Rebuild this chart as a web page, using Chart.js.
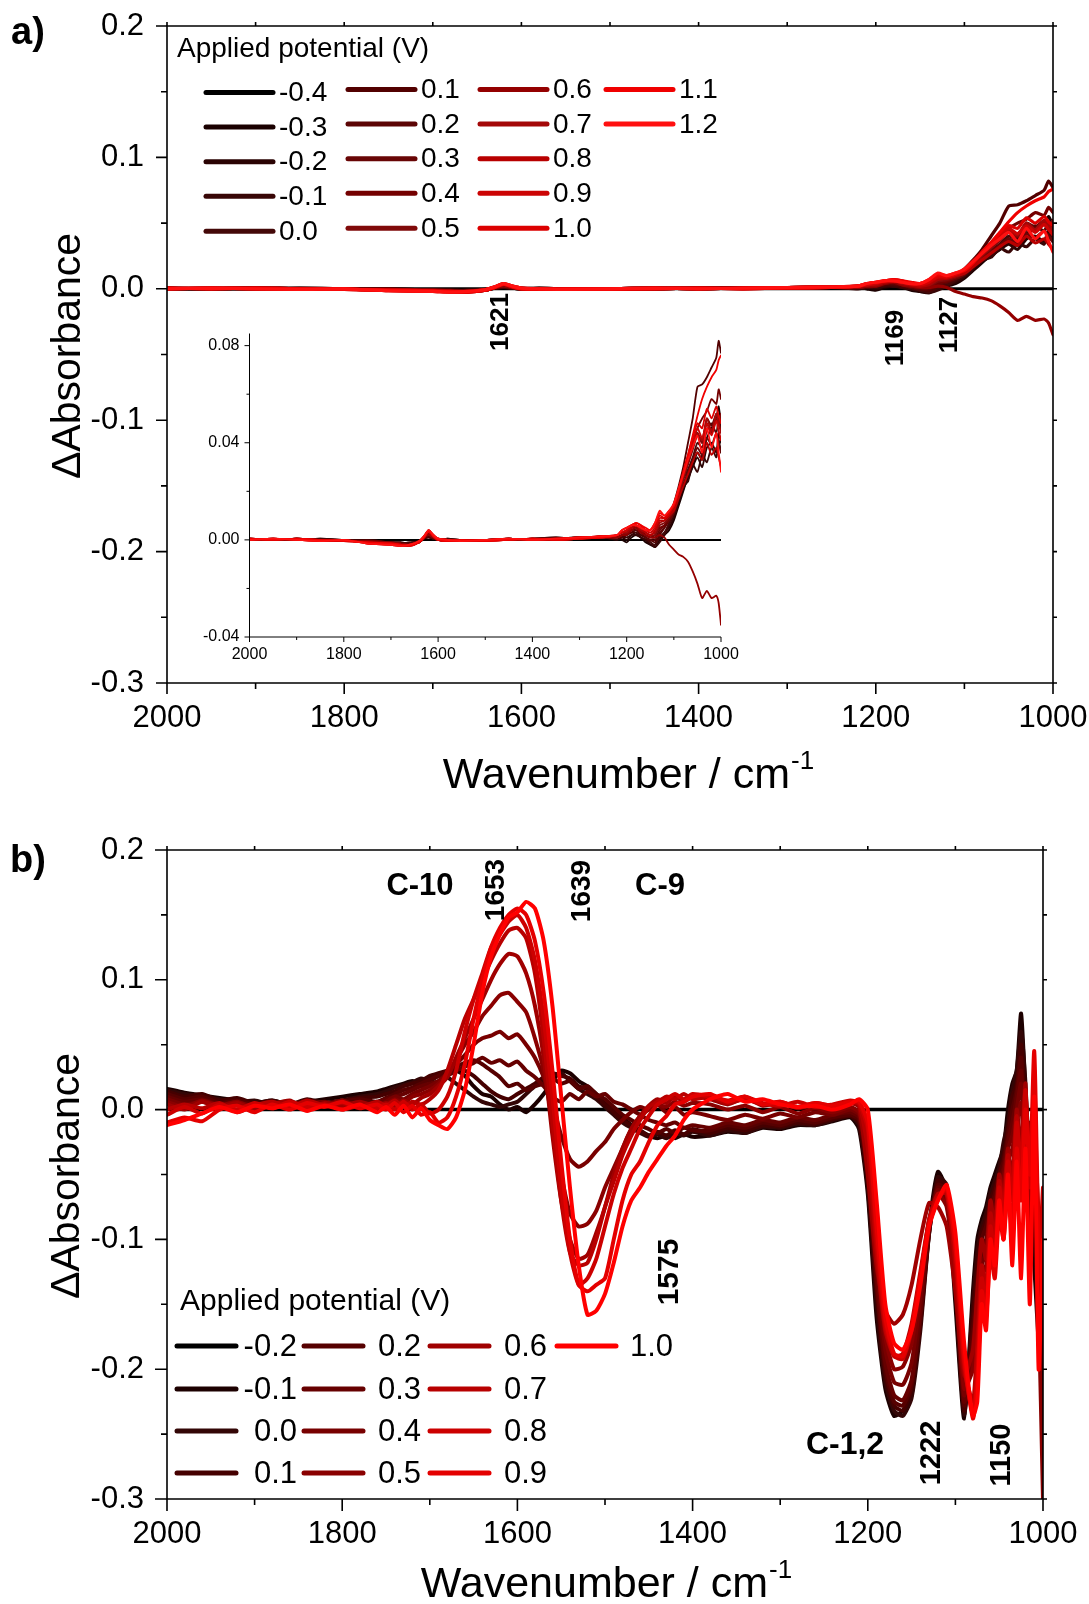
<!DOCTYPE html>
<html>
<head>
<meta charset="utf-8">
<script src="https://cdn.jsdelivr.net/npm/chart.js@4.4.0/dist/chart.umd.min.js"></script>
<style>
  body { margin: 0; background: #fff; }
  #page { position: relative; width: 1089px; height: 1604px; overflow: hidden; background: #fff; }
  canvas { position: absolute; }
</style>
</head>
<body>
<div id="page">
  <canvas id="chartA" width="1089" height="800" style="left:0;top:0;width:1089px;height:800px"></canvas>
  <canvas id="chartInset" width="560" height="360" style="left:180px;top:320px;width:560px;height:360px"></canvas>
  <canvas id="chartB" width="1089" height="804" style="left:0;top:800px;width:1089px;height:804px"></canvas>
</div>
<script>
const FONT = "'Liberation Sans', Arial, Helvetica, sans-serif";
Chart.defaults.font.family = FONT;
Chart.defaults.color = '#000';

// axis ticks
const xMajor = [2000, 1800, 1600, 1400, 1200, 1000];
const xMinor = [1900, 1700, 1500, 1300, 1100];
const yMajor = [-0.3, -0.2, -0.1, 0.0, 0.1, 0.2];
const yMinor = [-0.25, -0.15, -0.05, 0.05, 0.15];
const insetYMajor = [-0.04, 0.0, 0.04, 0.08];
const insetYMinor = [-0.02, 0.02, 0.06];

// reference spectrum (flat zero line)
const waveRef = [2000, 1000];

// ---------- panel a ----------
const labelsA = ['-0.4', '-0.3', '-0.2', '-0.1', '0.0', '0.1', '0.2', '0.3', '0.4', '0.5', '0.6', '0.7', '0.8', '0.9', '1.0', '1.1', '1.2'];
const colorsA = ['#000000', '#1a0000', '#2a0303', '#380606', '#440808', '#520000', '#5c0505', '#680505', '#740000', '#800a0a',
                 '#940000', '#a40808', '#b80000', '#cc0404', '#dc0000', '#f00000', '#ff1010'];
const waveA = [2000, 1950, 1900, 1850, 1800, 1750, 1700, 1680, 1660, 1640, 1630, 1620, 1610, 1600, 1580,
               1550, 1500, 1450, 1400, 1350, 1300, 1250,
               1220, 1210, 1200, 1190, 1180, 1170, 1160, 1150, 1140, 1130, 1120, 1110, 1100, 1090, 1080, 1070,
               1060, 1050, 1040, 1030, 1020, 1010, 1005, 1000];

const aN04 = [0, 0];
const aN03 = [0, 0, 0.0005, 0, -0.0005, 0, -0.001, -0.001, -0.0015, -0.001, 0.0005, 0.001, 0.0005, 0, 0, 0, 0, 0.0005, 0, 0.0005, 0.001, 0.001,
  0.001, 0, -0.001, 0.001, 0.002, 0.001, -0.001, -0.002, -0.003, 0, 0.002, 0.004, 0.008, 0.014, 0.02, 0.026, 0.03, 0.036, 0.033, 0.042, 0.046, 0.05, 0.055, 0.048];
const aN02 = [0.0005, 0, 0, 0.0005, 0, -0.0005, -0.001, -0.0015, -0.001, -0.0005, 0.0005, 0.0015, 0.0005, 0, 0.0005, 0, 0, 0, 0.0005, 0.001, 0.0005, 0.001,
  0.001, 0.001, 0, 0.002, 0.003, 0.001, 0, -0.002, -0.002, 0.001, 0.003, 0.005, 0.009, 0.015, 0.021, 0.025, 0.03, 0.034, 0.03, 0.038, 0.04, 0.036, 0.044, 0.04];
const aN01 = [0, 0, 0.0005, 0, -0.0005, 0, -0.001, -0.001, -0.0015, -0.001, 0.0005, 0.001, 0.0005, 0, 0, 0, 0, 0.0005, 0, 0.0005, 0.001, 0.001,
  0, 0.001, 0.001, 0.002, 0.002, 0.001, 0, -0.001, -0.003, -0.001, 0.002, 0.006, 0.01, 0.016, 0.022, 0.024, 0.031, 0.028, 0.035, 0.032, 0.038, 0.034, 0.041, 0.036];
const a00 = [0.0005, 0, 0, 0.0005, 0, -0.0005, -0.001, -0.0015, -0.001, -0.0005, 0.0005, 0.0015, 0.0005, 0, 0.0005, 0, 0, 0, 0.0005, 0.001, 0.0005, 0.001,
  0.001, 0.001, 0.002, 0.003, 0.003, 0.002, 0.001, -0.001, -0.002, 0.001, 0.003, 0.007, 0.012, 0.018, 0.025, 0.029, 0.034, 0.04, 0.038, 0.045, 0.048, 0.044, 0.05, 0.046];
const a01 = [0, 0, 0.0005, 0, -0.0005, 0, -0.001, -0.001, -0.0015, -0.001, 0.0005, 0.001, 0.0005, 0, 0, 0, 0, 0.0005, 0, 0.0005, 0.001, 0.001,
  0.001, 0.001, 0.002, 0.003, 0.004, 0.002, 0.001, 0, -0.001, 0.002, 0.005, 0.009, 0.015, 0.022, 0.03, 0.04, 0.05, 0.063, 0.064, 0.067, 0.071, 0.075, 0.082, 0.077];
const a02 = [0, 0.0005, 0, 0, -0.0005, -0.0005, -0.001, -0.0015, -0.002, -0.001, 0.001, 0.0025, 0.001, 0, -0.0005, 0, 0, 0, 0.0005, 0.0005, 0.001, 0.001,
  0.001, 0.002, 0.002, 0.004, 0.004, 0.003, 0.001, 0, 0, 0.003, 0.005, 0.008, 0.012, 0.019, 0.026, 0.032, 0.038, 0.044, 0.04, 0.05, 0.047, 0.052, 0.049, 0.045];
const a03 = [0.0005, 0, 0.0005, 0, 0, -0.001, -0.0015, -0.0015, -0.002, -0.0005, 0.001, 0.002, 0.001, 0.0005, 0, -0.0005, 0, 0.0005, 0, 0.0005, 0.0005, 0.0015,
  0.001, 0.002, 0.003, 0.004, 0.005, 0.003, 0.002, 0.001, 0.001, 0.004, 0.006, 0.008, 0.011, 0.017, 0.023, 0.028, 0.033, 0.038, 0.035, 0.042, 0.039, 0.044, 0.04, 0.036];
const a04 = [0, 0.0005, 0, 0, -0.0005, -0.0005, -0.001, -0.0015, -0.002, -0.001, 0.001, 0.0025, 0.001, 0, -0.0005, 0, 0, 0, 0.0005, 0.0005, 0.001, 0.001,
  0.001, 0.002, 0.003, 0.005, 0.005, 0.004, 0.002, 0.001, 0.002, 0.005, 0.006, 0.009, 0.013, 0.02, 0.027, 0.034, 0.04, 0.046, 0.05, 0.053, 0.058, 0.056, 0.062, 0.058];
const a05 = [0.0005, 0, 0.0005, 0, 0, -0.001, -0.0015, -0.0015, -0.002, -0.0005, 0.001, 0.002, 0.001, 0.0005, 0, -0.0005, 0, 0.0005, 0, 0.0005, 0.0005, 0.0015,
  0.001, 0.002, 0.003, 0.005, 0.006, 0.004, 0.003, 0.002, 0.002, 0.006, 0.007, 0.009, 0.012, 0.018, 0.025, 0.031, 0.037, 0.043, 0.04, 0.048, 0.044, 0.05, 0.047, 0.052];
const a06 = [0, 0.0005, 0, 0, -0.0005, -0.0005, -0.001, -0.0015, -0.002, -0.001, 0.001, 0.0025, 0.001, 0, -0.0005, 0, 0, 0, 0.0005, 0.0005, 0.001, 0.001,
  0.001, 0.002, 0.002, 0.004, 0.005, 0.003, 0.002, 0.001, 0.001, 0.002, 0.001, -0.002, -0.004, -0.006, -0.007, -0.009, -0.013, -0.018, -0.024, -0.021, -0.024, -0.023, -0.026, -0.035];
const a07 = [0.0005, 0, 0.0005, 0, -0.0005, -0.001, -0.0015, -0.002, -0.0025, -0.001, 0.001, 0.0035, 0.0015, 0, -0.0005, 0, -0.0005, 0, 0.0005, 0, 0.0005, 0.001,
  0.002, 0.003, 0.003, 0.005, 0.006, 0.004, 0.003, 0.002, 0.003, 0.007, 0.008, 0.01, 0.013, 0.019, 0.026, 0.032, 0.039, 0.044, 0.041, 0.05, 0.045, 0.052, 0.048, 0.044];
const a08 = [0, 0.0005, 0, -0.0005, 0, -0.0015, -0.002, -0.0025, -0.002, -0.0005, 0.0015, 0.004, 0.002, 0.0005, 0, -0.0005, 0, 0.0005, 0, 0.0005, 0.001, 0.0015,
  0.002, 0.003, 0.004, 0.005, 0.006, 0.005, 0.003, 0.002, 0.004, 0.008, 0.008, 0.01, 0.012, 0.017, 0.022, 0.027, 0.032, 0.036, 0.033, 0.04, 0.035, 0.038, 0.034, 0.03];
const a09 = [0.0005, 0, 0.0005, 0, -0.0005, -0.001, -0.0015, -0.002, -0.0025, -0.001, 0.001, 0.0035, 0.0015, 0, -0.0005, 0, -0.0005, 0, 0.0005, 0, 0.0005, 0.001,
  0.002, 0.003, 0.004, 0.006, 0.006, 0.005, 0.004, 0.003, 0.005, 0.009, 0.009, 0.011, 0.014, 0.02, 0.027, 0.034, 0.04, 0.046, 0.042, 0.048, 0.043, 0.049, 0.045, 0.041];
const a10 = [0, 0.0005, 0, -0.0005, 0, -0.0015, -0.002, -0.0025, -0.002, -0.0005, 0.0015, 0.004, 0.002, 0.0005, 0, -0.0005, 0, 0.0005, 0, 0.0005, 0.001, 0.0015,
  0.002, 0.004, 0.005, 0.006, 0.007, 0.006, 0.004, 0.004, 0.006, 0.01, 0.009, 0.011, 0.015, 0.021, 0.028, 0.035, 0.042, 0.048, 0.046, 0.054, 0.05, 0.055, 0.051, 0.048];
const a11 = [0.0005, 0, 0.0005, 0, -0.0005, -0.001, -0.0015, -0.002, -0.0025, -0.001, 0.001, 0.0035, 0.0015, 0, -0.0005, 0, -0.0005, 0, 0.0005, 0, 0.0005, 0.001,
  0.002, 0.004, 0.005, 0.006, 0.007, 0.006, 0.005, 0.004, 0.007, 0.011, 0.01, 0.012, 0.014, 0.02, 0.028, 0.035, 0.043, 0.051, 0.058, 0.063, 0.067, 0.07, 0.074, 0.076];
const a12 = [0, 0.0005, 0, -0.0005, 0, -0.0015, -0.002, -0.0025, -0.002, -0.0005, 0.0015, 0.004, 0.002, 0.0005, 0, -0.0005, 0, 0.0005, 0, 0.0005, 0.001, 0.0015,
  0.002, 0.004, 0.005, 0.006, 0.006, 0.005, 0.004, 0.004, 0.007, 0.012, 0.01, 0.012, 0.015, 0.021, 0.027, 0.033, 0.038, 0.043, 0.036, 0.046, 0.038, 0.044, 0.036, 0.028];

// ---------- panel b ----------
const labelsB = ['-0.2', '-0.1', '0.0', '0.1', '0.2', '0.3', '0.4', '0.5', '0.6', '0.7', '0.8', '0.9', '1.0'];
const colorsB = ['#000000', '#1c0000', '#330606', '#450000', '#560000', '#660000', '#780000', '#8a0000',
                 '#a00000', '#b80000', '#cc0000', '#e40000', '#ff0000'];
const waveB = [2000, 1980, 1960, 1940, 1920, 1900, 1880, 1860, 1840, 1820, 1800, 1780, 1760,
  1750, 1740, 1730, 1720, 1710, 1700, 1690, 1680, 1670, 1660,
  1650, 1640, 1630, 1620, 1610, 1600, 1590, 1580, 1570, 1560,
  1550, 1540, 1530, 1520, 1510, 1500, 1490, 1480, 1470, 1460,
  1450, 1440, 1430, 1420, 1410, 1400,
  1380, 1360, 1340, 1320, 1300, 1280, 1260, 1240, 1220,
  1210, 1200, 1190, 1180, 1170, 1160, 1150, 1140, 1130, 1120, 1110, 1100, 1090, 1080,
  1075, 1070, 1065, 1060, 1055, 1050, 1045, 1040, 1035, 1030, 1025, 1020, 1015, 1010, 1005, 1000];

const bN02 = [0, 0];
const bN01 = [0.016, 0.013, 0.011, 0.009, 0.007, 0.005, 0.007, 0.004, 0.006, 0.008, 0.010, 0.012, 0.014,
  0.016, 0.018, 0.020, 0.022, 0.020, 0.024, 0.026, 0.028, 0.030, 0.026,
  0.018, 0.012, 0.010, 0.004, 0.000, 0.002, -0.002, 0.004, 0.012, 0.022,
  0.030, 0.028, 0.022, 0.018, 0.012, 0.006, 0.000, -0.006, -0.012, -0.016,
  -0.020, -0.022, -0.020, -0.022, -0.019, -0.021,
  -0.020, -0.017, -0.018, -0.014, -0.015, -0.012, -0.012, -0.009, -0.006,
  -0.015, -0.065, -0.160, -0.215, -0.236, -0.232, -0.220, -0.160, -0.090, -0.048, -0.062, -0.150, -0.238, -0.140,
  -0.100, -0.085, -0.075, -0.060, -0.050, -0.040, -0.030, 0.000, 0.020, 0.030, 0.074, 0.010, -0.080, -0.120, -0.180, -0.220];
const b00 = [0.015, 0.012, 0.010, 0.008, 0.006, 0.007, 0.004, 0.006, 0.003, 0.005, 0.007, 0.010, 0.012,
  0.014, 0.017, 0.019, 0.021, 0.024, 0.022, 0.026, 0.025, 0.020, 0.015,
  0.010, 0.006, 0.004, 0.002, 0.004, 0.006, 0.012, 0.018, 0.022, 0.026,
  0.028, 0.022, 0.016, 0.012, 0.008, 0.002, -0.004, -0.010, -0.014, -0.018,
  -0.021, -0.019, -0.022, -0.018, -0.020, -0.017,
  -0.020, -0.016, -0.018, -0.013, -0.014, -0.011, -0.012, -0.008, -0.005,
  -0.012, -0.060, -0.150, -0.210, -0.232, -0.236, -0.222, -0.170, -0.095, -0.052, -0.058, -0.140, -0.235, -0.150,
  -0.110, -0.090, -0.080, -0.065, -0.055, -0.045, -0.025, -0.010, 0.015, 0.030, 0.060, 0.020, -0.050, -0.100, -0.160, -0.200];
const b01 = [0.014, 0.010, 0.012, 0.007, 0.009, 0.005, 0.007, 0.004, 0.008, 0.005, 0.007, 0.009, 0.010,
  0.012, 0.014, 0.018, 0.020, 0.022, 0.026, 0.028, 0.030, 0.032, 0.030,
  0.026, 0.020, 0.014, 0.010, 0.008, 0.012, 0.016, 0.020, 0.025, 0.028,
  0.026, 0.024, 0.018, 0.016, 0.010, 0.004, -0.002, -0.008, -0.012, -0.016,
  -0.020, -0.017, -0.020, -0.016, -0.019, -0.015,
  -0.018, -0.014, -0.016, -0.012, -0.013, -0.010, -0.011, -0.007, -0.005,
  -0.010, -0.055, -0.140, -0.205, -0.228, -0.232, -0.215, -0.165, -0.095, -0.055, -0.060, -0.135, -0.232, -0.160,
  -0.120, -0.095, -0.085, -0.070, -0.060, -0.050, -0.035, -0.015, 0.010, 0.020, 0.050, 0.000, -0.060, -0.090, -0.140, -0.190];
const b02 = [0.012, 0.008, 0.010, 0.005, 0.007, 0.004, 0.006, 0.003, 0.007, 0.004, 0.006, 0.008, 0.006,
  0.009, 0.012, 0.015, 0.017, 0.020, 0.023, 0.026, 0.030, 0.033, 0.036,
  0.038, 0.035, 0.030, 0.025, 0.018, 0.020, 0.015, 0.018, 0.020, 0.024,
  0.020, 0.022, 0.016, 0.018, 0.012, 0.008, 0.002, -0.004, -0.008, -0.012,
  -0.015, -0.018, -0.015, -0.018, -0.014, -0.016,
  -0.016, -0.012, -0.014, -0.010, -0.012, -0.008, -0.010, -0.006, -0.004,
  -0.008, -0.050, -0.135, -0.200, -0.225, -0.228, -0.212, -0.160, -0.095, -0.058, -0.062, -0.130, -0.228, -0.170,
  -0.130, -0.100, -0.090, -0.075, -0.065, -0.050, -0.040, -0.020, 0.000, 0.015, 0.040, -0.020, -0.040, -0.080, -0.120, -0.180];
const b03 = [0.010, 0.006, 0.008, 0.004, 0.006, 0.002, 0.005, 0.003, 0.006, 0.004, 0.007, 0.003, 0.006,
  0.008, 0.010, 0.012, 0.015, 0.018, 0.020, 0.022, 0.026, 0.030, 0.033,
  0.036, 0.040, 0.036, 0.038, 0.034, 0.037, 0.030, 0.025, 0.018, 0.010,
  0.006, 0.012, 0.008, 0.014, 0.010, 0.012, 0.006, 0.004, 0.000, -0.004,
  -0.008, -0.010, -0.012, -0.010, -0.014, -0.012,
  -0.014, -0.010, -0.012, -0.008, -0.010, -0.006, -0.008, -0.004, -0.002,
  -0.006, -0.045, -0.130, -0.195, -0.220, -0.224, -0.208, -0.155, -0.092, -0.060, -0.065, -0.125, -0.225, -0.180,
  -0.140, -0.110, -0.100, -0.080, -0.070, -0.055, -0.045, -0.025, -0.010, 0.010, 0.030, -0.030, -0.020, -0.060, -0.100, -0.240];
const b04 = [0.008, 0.004, 0.006, 0.002, 0.005, 0.003, 0.006, 0.001, 0.004, 0.006, 0.002, 0.005, 0.004,
  0.006, 0.010, 0.008, 0.012, 0.015, 0.018, 0.022, 0.028, 0.035, 0.042,
  0.050, 0.055, 0.057, 0.060, 0.055, 0.058, 0.050, 0.040, 0.025, 0.005,
  -0.020, -0.038, -0.044, -0.040, -0.032, -0.025, -0.015, -0.008, -0.002, 0.002,
  0.000, 0.004, -0.002, 0.002, -0.004, -0.002,
  -0.005, -0.008, -0.004, -0.007, -0.003, -0.006, -0.002, -0.004, 0.000,
  -0.004, -0.040, -0.120, -0.185, -0.210, -0.212, -0.195, -0.145, -0.088, -0.062, -0.070, -0.120, -0.220, -0.190,
  -0.150, -0.120, -0.110, -0.090, -0.080, -0.060, -0.050, -0.030, -0.020, 0.000, 0.020, -0.040, -0.010, -0.050, -0.110, -0.160];
const b05 = [0.006, 0.002, 0.007, 0.003, 0.006, 0.001, 0.005, 0.002, 0.006, 0.003, 0.007, 0.002, 0.005,
  0.004, 0.008, 0.005, 0.010, 0.012, 0.015, 0.020, 0.028, 0.038, 0.050,
  0.060, 0.072, 0.080, 0.088, 0.090, 0.083, 0.075, 0.055, 0.030, -0.010,
  -0.050, -0.080, -0.090, -0.088, -0.078, -0.060, -0.045, -0.030, -0.015, -0.005,
  0.000, 0.004, 0.002, 0.006, 0.003, 0.005,
  0.004, 0.000, 0.003, -0.002, 0.002, -0.003, 0.001, -0.002, 0.002,
  -0.002, -0.030, -0.110, -0.175, -0.200, -0.198, -0.180, -0.135, -0.085, -0.065, -0.075, -0.130, -0.215, -0.200,
  -0.160, -0.130, -0.120, -0.100, -0.085, -0.070, -0.055, -0.040, -0.030, -0.010, 0.005, -0.050, -0.030, -0.040, -0.150, -0.300];
const b06 = [0.004, 0.000, 0.006, 0.002, 0.005, 0.000, 0.004, 0.007, 0.001, 0.005, 0.003, 0.006, 0.002,
  0.005, 0.002, 0.007, 0.004, 0.009, 0.012, 0.018, 0.025, 0.040, 0.055,
  0.070, 0.085, 0.100, 0.112, 0.120, 0.118, 0.105, 0.080, 0.040, -0.020,
  -0.070, -0.100, -0.115, -0.112, -0.095, -0.075, -0.050, -0.030, -0.015, -0.005,
  0.003, 0.008, 0.005, 0.010, 0.006, 0.010,
  0.008, 0.004, 0.009, 0.003, 0.005, 0.001, 0.004, 0.002, 0.005,
  0.002, -0.050, -0.120, -0.155, -0.165, -0.158, -0.135, -0.100, -0.072, -0.075, -0.090, -0.140, -0.205, -0.185,
  -0.140, -0.100, -0.115, -0.070, -0.090, -0.050, -0.070, -0.030, -0.055, 0.000, -0.030, 0.020, -0.100, 0.030, -0.140, -0.200];
const b07 = [0.000, 0.004, 0.001, 0.005, -0.002, 0.003, 0.006, 0.002, 0.007, 0.003, 0.005, 0.002, 0.006,
  0.003, 0.007, 0.002, 0.006, 0.004, 0.008, 0.015, 0.030, 0.050, 0.070,
  0.085, 0.100, 0.115, 0.128, 0.138, 0.140, 0.132, 0.105, 0.055, -0.010,
  -0.070, -0.110, -0.120, -0.118, -0.100, -0.075, -0.055, -0.035, -0.020, -0.008,
  0.002, 0.006, 0.010, 0.008, 0.012, 0.008,
  0.010, 0.005, 0.008, 0.004, 0.006, 0.002, 0.005, 0.003, 0.006,
  0.004, -0.030, -0.110, -0.170, -0.190, -0.188, -0.165, -0.125, -0.085, -0.065, -0.065, -0.120, -0.200, -0.225,
  -0.180, -0.120, -0.140, -0.080, -0.100, -0.055, -0.075, -0.035, -0.060, -0.005, -0.060, 0.010, -0.040, -0.020, -0.080, -0.120];
const b08 = [-0.004, 0.002, -0.003, 0.004, 0.000, 0.005, 0.001, 0.006, 0.002, 0.004, 0.000, 0.003, 0.001,
  0.004, 0.000, 0.006, 0.000, 0.004, -0.003, 0.000, 0.010, 0.030, 0.060,
  0.085, 0.105, 0.125, 0.135, 0.145, 0.150, 0.140, 0.115, 0.070, 0.010,
  -0.060, -0.110, -0.135, -0.130, -0.115, -0.090, -0.065, -0.045, -0.030, -0.015,
  -0.005, 0.004, 0.008, 0.012, 0.008, 0.012,
  0.010, 0.007, 0.010, 0.005, 0.003, 0.006, 0.002, 0.004, 0.007,
  0.005, -0.015, -0.100, -0.165, -0.190, -0.192, -0.170, -0.130, -0.085, -0.068, -0.062, -0.110, -0.195, -0.235,
  -0.200, -0.130, -0.150, -0.090, -0.110, -0.060, -0.085, -0.040, -0.070, -0.010, -0.045, 0.015, -0.060, 0.010, -0.120, -0.060];
const b09 = [-0.010, -0.006, -0.009, 0.000, 0.003, -0.002, 0.004, 0.000, 0.005, 0.002, 0.006, 0.001, 0.004,
  0.000, 0.005, -0.002, 0.003, -0.004, -0.002, -0.010, -0.006, 0.010, 0.035,
  0.070, 0.100, 0.125, 0.140, 0.150, 0.155, 0.150, 0.130, 0.090, 0.030,
  -0.040, -0.100, -0.135, -0.140, -0.135, -0.130, -0.100, -0.070, -0.050, -0.040,
  -0.025, -0.012, -0.005, 0.004, 0.006, 0.010,
  0.012, 0.006, 0.010, 0.004, 0.006, 0.002, 0.005, 0.003, 0.006,
  0.006, -0.010, -0.090, -0.160, -0.188, -0.190, -0.168, -0.128, -0.088, -0.070, -0.060, -0.105, -0.190, -0.238,
  -0.210, -0.140, -0.160, -0.110, -0.130, -0.080, -0.100, -0.060, -0.090, -0.030, -0.070, 0.000, -0.050, 0.045, -0.100, -0.150];
const b10 = [-0.012, -0.008, -0.003, 0.002, -0.002, 0.003, 0.001, 0.004, -0.001, 0.003, 0.000, 0.004, -0.002,
  0.002, -0.004, 0.003, -0.006, 0.001, -0.008, -0.012, -0.015, -0.006, 0.015,
  0.050, 0.090, 0.118, 0.135, 0.148, 0.152, 0.160, 0.155, 0.130, 0.080,
  0.010, -0.060, -0.120, -0.158, -0.155, -0.142, -0.118, -0.090, -0.070, -0.060,
  -0.048, -0.038, -0.028, -0.020, -0.008, 0.000,
  0.008, 0.012, 0.006, 0.008, 0.004, 0.002, 0.003, 0.000, 0.004,
  0.008, 0.000, -0.070, -0.150, -0.180, -0.185, -0.170, -0.135, -0.090, -0.070, -0.058, -0.095, -0.180, -0.236,
  -0.225, -0.150, -0.170, -0.100, -0.120, -0.070, -0.100, -0.050, -0.120, -0.040, -0.130, -0.030, -0.150, 0.010, -0.200, -0.100];

const seriesA = [aN04, aN03, aN02, aN01, a00, a01, a02, a03, a04, a05, a06, a07, a08, a09, a10, a11, a12];
const seriesB = [bN02, bN01, b00, b01, b02, b03, b04, b05, b06, b07, b08, b09, b10];

function buildSets(wave, list, labels, colors, width, refWidth) {
  const n = list.length;
  return list.map((vals, k) => {
    const xs = vals.length === 2 ? waveRef : wave;
    return {
      label: labels[k],
      data: xs.map((w, i) => ({ x: w, y: vals[i] })),
      borderColor: colors[k],
      backgroundColor: colors[k],
      borderWidth: k === 0 ? refWidth : width,
      order: n - 1 - k,
      pointRadius: 0,
      fill: false
    };
  });
}

function fontStr(size, bold) { return (bold ? 'bold ' : '') + size + 'px ' + FONT; }

// frame, ticks, titles, labels and legend
function decor(o) {
  return {
    id: 'decor',
    afterDatasetsDraw(chart) {
      const { ctx, chartArea: ca } = chart;
      const xs = chart.scales.x, ys = chart.scales.y;
      ctx.save();
      ctx.strokeStyle = '#000';
      ctx.lineWidth = o.frameWidth;
      ctx.beginPath();
      if (o.box) {
        ctx.rect(ca.left, ca.top, ca.right - ca.left, ca.bottom - ca.top);
      } else {
        ctx.moveTo(ca.left, ca.top);
        ctx.lineTo(ca.left, ca.bottom);
        ctx.lineTo(ca.right, ca.bottom);
      }
      ctx.stroke();
      ctx.lineWidth = o.tickWidth;
      ctx.beginPath();
      const xt = (vals, len) => vals.forEach(v => {
        const p = xs.getPixelForValue(v);
        ctx.moveTo(p, ca.bottom); ctx.lineTo(p, ca.bottom + len);
        if (o.box) { ctx.moveTo(p, ca.top); ctx.lineTo(p, ca.top - o.opp); }
      });
      const yt = (vals, len) => vals.forEach(v => {
        const p = ys.getPixelForValue(v);
        ctx.moveTo(ca.left, p); ctx.lineTo(ca.left - len, p);
        if (o.box) { ctx.moveTo(ca.right, p); ctx.lineTo(ca.right + o.opp, p); }
      });
      xt(o.xMajor, o.major); xt(o.xMinor, o.minor);
      yt(o.yMajor, o.major); yt(o.yMinor, o.minor);
      ctx.stroke();
      ctx.restore();
    },
    afterDraw(chart) {
      const ctx = chart.ctx;
      const dy = o.offsetY || 0;
      ctx.save();
      ctx.fillStyle = '#000';
      (o.texts || []).forEach(t => {
        ctx.save();
        ctx.font = fontStr(t.size, t.bold);
        ctx.textAlign = 'center';
        ctx.textBaseline = 'middle';
        ctx.translate(t.x, t.y - dy);
        if (t.rot) ctx.rotate(-Math.PI / 2);
        ctx.fillText(t.t, 0, 0);
        ctx.restore();
      });
      if (o.yTitle) {
        const t = o.yTitle;
        ctx.save();
        ctx.font = fontStr(t.size, false);
        ctx.textAlign = 'center';
        ctx.textBaseline = 'alphabetic';
        ctx.translate(t.x, t.y - dy);
        ctx.rotate(-Math.PI / 2);
        ctx.fillText(t.t, 0, 0);
        ctx.restore();
      }
      if (o.xTitle) {
        const t = o.xTitle;
        ctx.font = fontStr(t.size, false);
        const w1 = ctx.measureText(t.t).width;
        ctx.font = fontStr(t.supSize, false);
        const w2 = ctx.measureText(t.sup).width;
        const x0 = t.x - (w1 + w2) / 2;
        ctx.textAlign = 'left';
        ctx.textBaseline = 'alphabetic';
        ctx.font = fontStr(t.size, false);
        ctx.fillText(t.t, x0, t.y - dy);
        ctx.font = fontStr(t.supSize, false);
        ctx.fillText(t.sup, x0 + w1 + 1, t.y - dy - t.supRise);
      }
      const lg = o.legend;
      if (lg) {
        ctx.font = fontStr(lg.titleSize, false);
        ctx.textAlign = 'left';
        ctx.textBaseline = 'middle';
        ctx.fillText(lg.title, lg.titleX, lg.titleY - dy);
        chart.data.datasets.forEach((ds, k) => {
          const col = Math.floor(k / lg.perCol), row = k % lg.perCol;
          const x0 = lg.colX[col];
          const y = lg.rowY[row] + lg.colDy[col] - dy;
          ctx.strokeStyle = ds.borderColor;
          ctx.lineWidth = lg.lineWidth;
          ctx.lineCap = 'round';
          ctx.beginPath();
          ctx.moveTo(x0, y); ctx.lineTo(x0 + lg.lineLen, y);
          ctx.stroke();
          ctx.fillStyle = '#000';
          ctx.font = fontStr(lg.size, false);
          if (lg.align === 'right') {
            ctx.textAlign = 'right';
            ctx.fillText(ds.label, lg.textRight[col], y + 1);
          } else {
            ctx.textAlign = 'left';
            ctx.fillText(ds.label, x0 + lg.lineLen + lg.gap, y + 1);
          }
        });
      }
      ctx.restore();
    }
  };
}

function noPad(s) { s.paddingLeft = 0; s.paddingRight = 0; s.paddingTop = 0; s.paddingBottom = 0; }

function makeChart(id, datasets, o) {
  return new Chart(document.getElementById(id), {
    type: 'line',
    data: { datasets: datasets },
    options: {
      responsive: false,
      animation: false,
      events: [],
      layout: { padding: o.padding },
      plugins: { legend: { display: false }, tooltip: { enabled: false } },
      elements: { line: { tension: o.tension, borderJoinStyle: 'round', borderCapStyle: 'round' }, point: { radius: 0 } },
      scales: {
        x: {
          type: 'linear', reverse: true, min: 1000, max: 2000,
          afterFit: s => { s.height = o.xHeight; noPad(s); },
          afterBuildTicks: s => { s.ticks = o.xMajor.map(v => ({ value: v })); },
          grid: { display: false, drawTicks: false, tickLength: 0 },
          border: { display: false },
          ticks: { font: { size: o.tickSize }, color: '#000', padding: o.xPad, maxRotation: 0, minRotation: 0, autoSkip: false,
                   callback: v => String(v) }
        },
        y: {
          type: 'linear', min: o.yMin, max: o.yMax,
          afterFit: s => { s.width = o.yWidth; noPad(s); },
          afterBuildTicks: s => { s.ticks = o.yMajor.map(v => ({ value: v })); },
          grid: { display: false, drawTicks: false, tickLength: 0 },
          border: { display: false },
          ticks: { font: { size: o.tickSize }, color: '#000', padding: o.yPad, autoSkip: false,
                   callback: v => (Math.abs(v) < 1e-9 ? 0 : v).toFixed(o.yDec) }
        }
      }
    },
    plugins: [decor(o)]
  });
}

// panel a
makeChart('chartA', buildSets(waveA, seriesA, labelsA, colorsA, 3.2, 3), {
  padding: { top: 26, right: 36, left: 0, bottom: 0 },
  xHeight: 117, yWidth: 167, yMin: -0.3, yMax: 0.2, yDec: 1, tension: 0.2,
  tickSize: 31, xPad: 17, yPad: 23,
  xMajor: xMajor, xMinor: xMinor, yMajor: yMajor, yMinor: yMinor,
  box: true, frameWidth: 1.6, tickWidth: 1.6, major: 11, minor: 6, opp: 4,
  texts: [
    { t: 'a)', x: 28, y: 34, size: 38, bold: true },
    { t: '1621', x: 501, y: 322, size: 26, bold: true, rot: true },
    { t: '1169', x: 896, y: 338, size: 26, bold: true, rot: true },
    { t: '1127', x: 950, y: 325, size: 26, bold: true, rot: true }
  ],
  yTitle: { t: '\u0394Absorbance', x: 80, y: 356, size: 41 },
  xTitle: { t: 'Wavenumber / cm', sup: '-1', x: 628, y: 788, size: 43, supSize: 26, supRise: 19 },
  legend: {
    title: 'Applied potential (V)', titleX: 177, titleY: 49, titleSize: 28,
    perCol: 5, colX: [206, 348, 480, 606], rowY: [89.5, 124, 158.7, 193.3, 228.3], colDy: [3, 0, 0, 0],
    lineLen: 67, lineWidth: 5, gap: 6, size: 28, align: 'left'
  }
});

// inset of panel a
makeChart('chartInset', buildSets(waveA, seriesA, labelsA, colorsA, 1.8, 2), {
  padding: { top: 13.5, right: 19, left: 0, bottom: 0 },
  xHeight: 43, yWidth: 69.5, yMin: -0.04, yMax: 0.085, yDec: 2, tension: 0.2,
  tickSize: 16, xPad: 8, yPad: 10,
  xMajor: xMajor, xMinor: xMinor, yMajor: insetYMajor, yMinor: insetYMinor,
  box: false, frameWidth: 1, tickWidth: 1, major: 5, minor: 3, opp: 0
});

// panel b
makeChart('chartB', buildSets(waveB, seriesB, labelsB, colorsB, 4, 3.5), {
  padding: { top: 50, right: 46, left: 0, bottom: 0 },
  xHeight: 105, yWidth: 167, yMin: -0.3, yMax: 0.2, yDec: 1, tension: 0.2,
  tickSize: 31, xPad: 17, yPad: 23,
  xMajor: xMajor, xMinor: xMinor, yMajor: yMajor, yMinor: yMinor,
  box: true, frameWidth: 1.6, tickWidth: 1.6, major: 12, minor: 6, opp: 4,
  offsetY: 800,
  texts: [
    { t: 'b)', x: 28, y: 862, size: 38, bold: true },
    { t: 'C-10', x: 420, y: 886, size: 31, bold: true },
    { t: '1653', x: 496, y: 890, size: 28, bold: true, rot: true },
    { t: '1639', x: 582, y: 891, size: 28, bold: true, rot: true },
    { t: 'C-9', x: 660, y: 886, size: 31, bold: true },
    { t: '1575', x: 670, y: 1272, size: 30, bold: true, rot: true },
    { t: 'C-1,2', x: 845, y: 1445, size: 32, bold: true },
    { t: '1222', x: 932, y: 1453, size: 29, bold: true, rot: true },
    { t: '1150', x: 1002, y: 1455, size: 29, bold: true, rot: true }
  ],
  yTitle: { t: '\u0394Absorbance', x: 79, y: 1176, size: 41 },
  xTitle: { t: 'Wavenumber / cm', sup: '-1', x: 606, y: 1597, size: 43, supSize: 26, supRise: 19 },
  legend: {
    title: 'Applied potential (V)', titleX: 180, titleY: 1302, titleSize: 30,
    perCol: 4, colX: [177, 304, 430, 557], rowY: [1346, 1389, 1431, 1473], colDy: [0, 0, 0, 0],
    lineLen: 59, lineWidth: 5, size: 31, align: 'right', textRight: [297, 421, 547, 673]
  }
});
</script>
</body>
</html>
